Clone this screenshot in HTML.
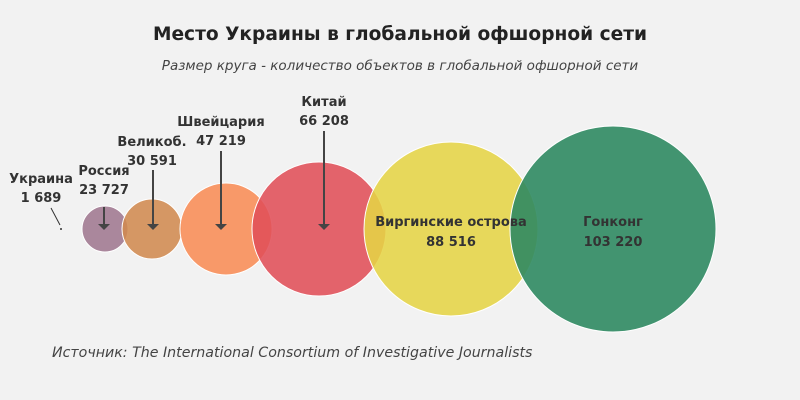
<!DOCTYPE html>
<html><head><meta charset="utf-8"><style>
body{margin:0;background:#f2f2f2}
svg{display:block;font-family:"DejaVu Sans","Liberation Sans",sans-serif}
</style></head><body>
<svg width="800" height="400" viewBox="0 0 800 400">
<rect width="800" height="400" fill="#f2f2f2"/>
<text x="400" y="40" text-anchor="middle" font-size="18.6" font-weight="bold" fill="#222">Место Украины в глобальной офшорной сети</text>
<text x="400" y="70" text-anchor="middle" font-size="13.5" font-style="italic" fill="#444">Размер круга - количество объектов в глобальной офшорной сети</text>
<g stroke="#fff" stroke-width="1" fill-opacity="0.88">
<circle cx="105" cy="229" r="23" fill="#9f7790"/>
<circle cx="152" cy="229" r="30" fill="#d08a50"/>
<circle cx="226" cy="229" r="46" fill="#f88c55"/>
<circle cx="319" cy="229" r="67" fill="#e04f58"/>
<circle cx="451" cy="229" r="87" fill="#e5d445"/>
<circle cx="613" cy="229" r="103" fill="#2f8a62" fill-opacity="0.9"/>
</g>
<circle cx="61" cy="229" r="1" fill="#333"/>
<g stroke="#444" stroke-width="2" fill="#444">
<line x1="104" y1="207" x2="104" y2="225"/><path d="M98 224h12l-6 6z" stroke="none"/>
<line x1="153" y1="170" x2="153" y2="225"/><path d="M147 224h12l-6 6z" stroke="none"/>
<line x1="221" y1="151" x2="221" y2="225"/><path d="M215 224h12l-6 6z" stroke="none"/>
<line x1="324" y1="131" x2="324" y2="225"/><path d="M318 224h12l-6 6z" stroke="none"/>
</g>
<line x1="51" y1="208" x2="60" y2="225" stroke="#333" stroke-width="1"/>
<g font-size="13" font-weight="bold" fill="#333" text-anchor="middle">
<text x="41" y="183">Украина</text><text x="41" y="202">1 689</text>
<text x="104" y="175">Россия</text><text x="104" y="194">23 727</text>
<text x="152" y="146">Великоб.</text><text x="152" y="165">30 591</text>
<text x="221" y="126">Швейцария</text><text x="221" y="145">47 219</text>
<text x="324" y="106">Китай</text><text x="324" y="125">66 208</text>
<text x="451" y="226">Виргинские острова</text><text x="451" y="246">88 516</text>
<text x="613" y="226">Гонконг</text><text x="613" y="246">103 220</text>
</g>
<text x="52" y="357" font-size="14.2" font-style="italic" fill="#444">Источник: The International Consortium of Investigative Journalists</text>
</svg>
</body></html>
